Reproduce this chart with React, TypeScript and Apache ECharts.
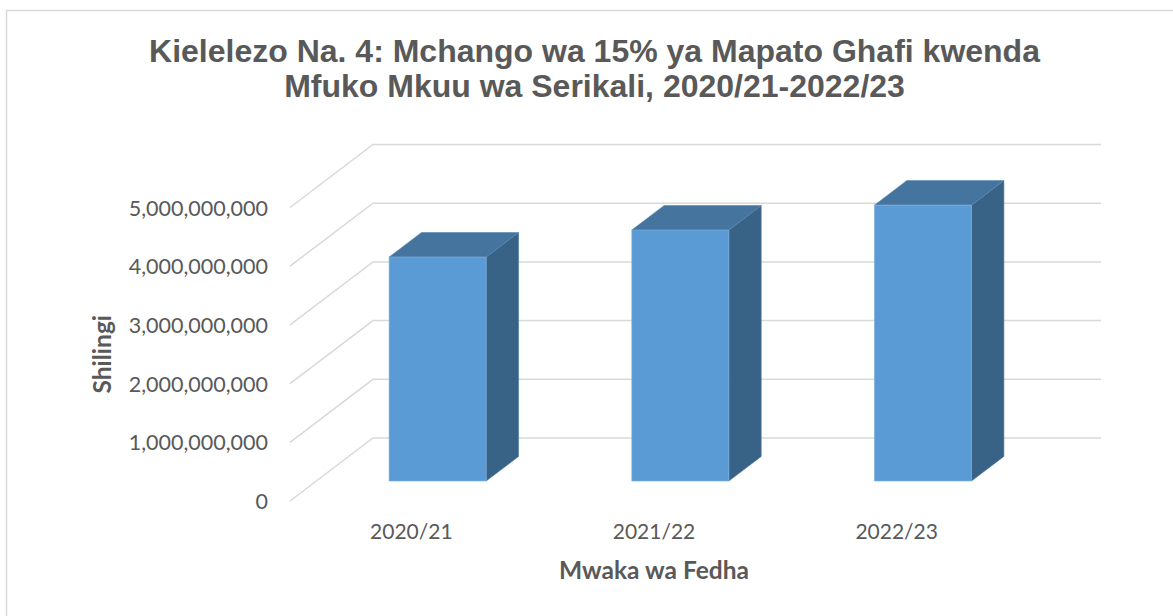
import React, { useEffect, useRef } from "react";
import * as echarts from "echarts";

const titleLines = [
  "Kielelezo Na. 4: Mchango wa 15% ya Mapato Ghafi kwenda",
  "Mfuko Mkuu wa Serikali, 2020/21-2022/23",
];
const categories = ["2020/21", "2021/22", "2022/23"];
const values = [3815000000, 4275000000, 4700000000];
const yTicks = [0, 1000000000, 2000000000, 3000000000, 4000000000, 5000000000];
const yAxisTitle = "Shilingi";
const xAxisTitle = "Mwaka wa Fedha";

// 3D projection (oblique) parameters
const DX = 83; // full depth horizontal shift
const DY = 63; // full depth vertical shift
const D0 = 0.317; // bar front depth fraction
const DD = 0.39; // bar depth fraction
const BAR_FRAC = 0.4;

const TEXT = "#595959";
const GRID = "#d9d9d9";

export default function App() {
  const ref = useRef<HTMLDivElement>(null);

  useEffect(() => {
    if (!ref.current) return;
    const chart = echarts.init(ref.current, null, { renderer: "svg" });

    const option: any = {
      animation: false,
      backgroundColor: "#ffffff",
      graphic: [
        {
          type: "rect",
          shape: { x: 6.5, y: 10.5, width: 1200, height: 700 },
          style: { fill: "none", stroke: GRID, lineWidth: 1.5 },
          silent: true,
          z: -10,
        },
        {
          type: "text",
          x: 594.5,
          y: 33,
          style: {
            text: titleLines.join("\n"),
            font: "bold 32px 'Liberation Sans', Arial, sans-serif",
            fill: TEXT,
            textAlign: "center",
            textVerticalAlign: "top",
            lineHeight: 35,
          },
        },
      ],
      grid: { left: 290, width: 728, top: 207.5, height: 293.5, containLabel: false },
      xAxis: {
        type: "category",
        data: categories,
        boundaryGap: true,
        axisLine: { show: false },
        axisTick: { show: false },
        axisLabel: {
          color: TEXT,
          fontFamily: "Lato",
          fontSize: 21,
          margin: 19,
        },
        name: xAxisTitle,
        nameLocation: "middle",
        nameGap: 56,
        nameTextStyle: {
          color: TEXT,
          fontFamily: "Lato",
          fontWeight: "bold",
          fontSize: 24.5,
        },
      },
      yAxis: {
        type: "value",
        min: 0,
        max: 5000000000,
        interval: 1000000000,
        axisLine: { show: false },
        axisTick: { show: false },
        splitLine: { show: false },
        axisLabel: {
          color: TEXT,
          fontFamily: "Lato",
          fontSize: 21.5,
          margin: 22,
          formatter: (v: number) => v.toLocaleString("en-US"),
        },
        name: yAxisTitle,
        nameLocation: "middle",
        nameRotate: 90,
        nameGap: 176,
        nameTextStyle: {
          color: TEXT,
          fontFamily: "Lato",
          fontWeight: "bold",
          fontSize: 24.5,
        },
      },
      series: [
        {
          type: "custom",
          z: 1,
          silent: true,
          clip: false,
          data: yTicks.map((v) => [0, v]),
          encode: { x: 0, y: 1 },
          renderItem: (params: any, api: any) => {
            const cs = params.coordSys;
            const y = api.coord([0, api.value(1)])[1];
            return {
              type: "polyline",
              shape: {
                points: [
                  [cs.x, y],
                  [cs.x + DX, y - DY],
                  [cs.x + cs.width + DX, y - DY],
                ],
              },
              style: { fill: "none", stroke: GRID, lineWidth: 1.5 },
            };
          },
        },
        {
          type: "custom",
          z: 2,
          clip: false,
          data: values.map((v, i) => [i, v]),
          encode: { x: 0, y: 1 },
          renderItem: (params: any, api: any) => {
            const i = api.value(0);
            const v = api.value(1);
            const top = api.coord([i, v]);
            const base = api.coord([i, 0]);
            const bw = api.size([1, 0])[0] * BAR_FRAC;
            const fx = D0 * DX;
            const fy = D0 * DY;
            const bx = DD * DX;
            const by = DD * DY;
            const L = top[0] - bw / 2 + fx;
            const R = L + bw;
            const T = top[1] - fy;
            const B = base[1] - fy;
            return {
              type: "group",
              children: [
                {
                  type: "polygon",
                  shape: {
                    points: [
                      [R, T],
                      [R + bx, T - by],
                      [R + bx, B - by],
                      [R, B],
                    ],
                  },
                  style: { fill: "#386286", stroke: "#4a77a0", lineWidth: 0.6 },
                },
                {
                  type: "polygon",
                  shape: {
                    points: [
                      [L, T],
                      [R, T],
                      [R + bx, T - by],
                      [L + bx, T - by],
                    ],
                  },
                  style: { fill: "#45759f", stroke: "#5a87b0", lineWidth: 0.6 },
                },
                {
                  type: "rect",
                  shape: { x: L, y: T, width: bw, height: B - T },
                  style: { fill: "#5b9bd5", stroke: "#7fb0de", lineWidth: 0.6 },
                },
              ],
            };
          },
        },
      ],
    };

    chart.setOption(option);
    return () => chart.dispose();
  }, []);

  return (
    <div
      ref={ref}
      style={{ position: "fixed", left: 0, top: 0, width: 1173, height: 616 }}
    />
  );
}
